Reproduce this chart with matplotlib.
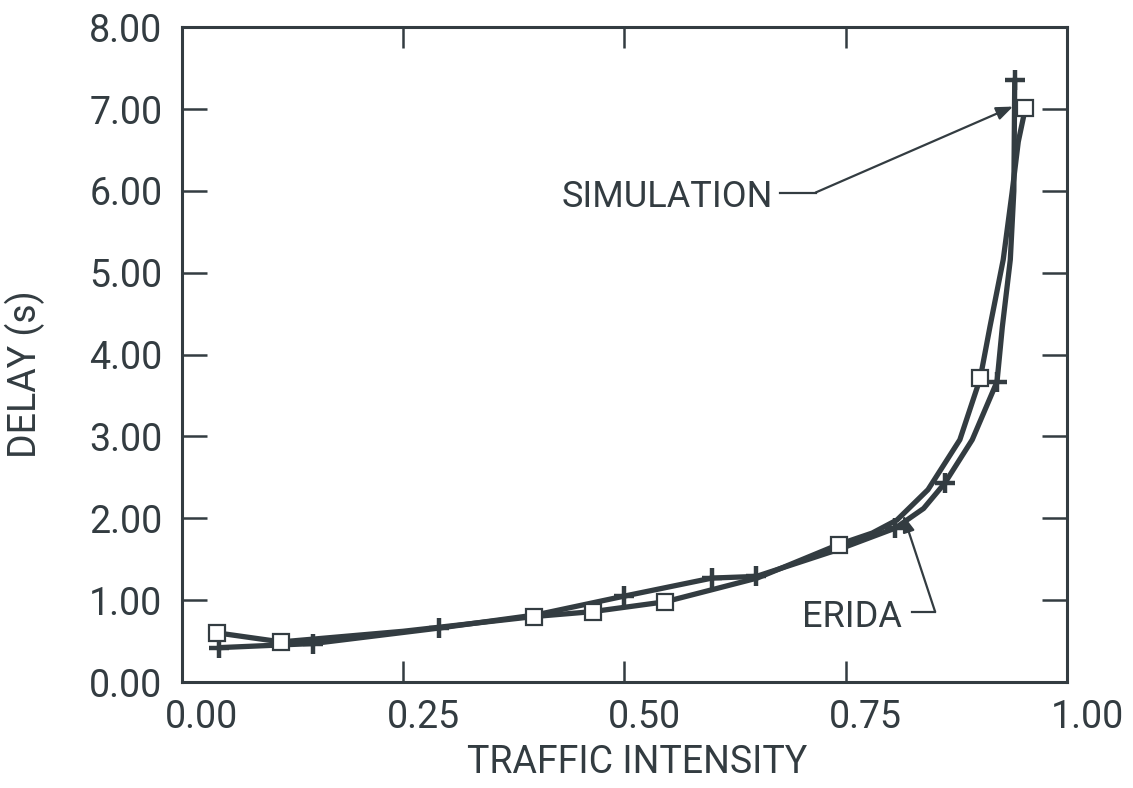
import matplotlib
matplotlib.use("Agg")
import matplotlib.pyplot as plt
import matplotlib.transforms as mtransforms

# ==================================
# DATA
# ==================================

# marked points
sim_x = [0.040, 0.112, 0.398, 0.464, 0.546, 0.742, 0.902, 0.953]
sim_y = [0.60, 0.49, 0.80, 0.85, 0.98, 1.68, 3.71, 7.01]

erida_x = [0.042, 0.148, 0.291, 0.500, 0.599, 0.649, 0.806, 0.862, 0.921, 0.941]
erida_y = [0.42, 0.47, 0.66, 1.05, 1.27, 1.29, 1.88, 2.43, 3.67, 7.36]

# curves as traced on the figure
sim_curve_x = [0.040, 0.112, 0.250, 0.398, 0.464, 0.546, 0.650, 0.742,
               0.780, 0.808, 0.843, 0.879, 0.902, 0.913, 0.928, 0.938, 0.945, 0.953]
sim_curve_y = [0.60, 0.49, 0.62, 0.80, 0.86, 0.98, 1.27, 1.68,
               1.82, 1.98, 2.35, 2.96, 3.71, 4.34, 5.16, 5.98, 6.60, 7.01]

erida_curve_x = [0.042, 0.148, 0.291, 0.400, 0.500, 0.599, 0.649, 0.742,
                 0.806, 0.838, 0.862, 0.893, 0.921, 0.927, 0.936, 0.940, 0.941]
erida_curve_y = [0.42, 0.47, 0.66, 0.82, 1.05, 1.27, 1.29, 1.62,
                 1.88, 2.12, 2.43, 2.96, 3.67, 4.34, 5.16, 6.00, 7.36]

x_ticks = [0.0, 0.25, 0.5, 0.75, 1.0]
x_labels = ["0.00", "0.25", "0.50", "0.75", "1.00"]
y_ticks = [0, 1, 2, 3, 4, 5, 6, 7, 8]
y_labels = ["0.00", "1.00", "2.00", "3.00", "4.00", "5.00", "6.00", "7.00", "8.00"]

# ==================================
# STYLE
# ==================================

INK = "#333c41"
plt.rcParams['font.family'] = ['Roboto', 'DejaVu Sans']

fig = plt.figure(figsize=(11.33, 7.88), dpi=100)
ax = fig.add_axes([0.1606, 0.1345, 0.7811, 0.831])

# ==================================
# CURVES
# ==================================

ax.plot(sim_curve_x, sim_curve_y, color=INK, lw=3.8, solid_capstyle='round',
        solid_joinstyle='round', zorder=2)
ax.plot(erida_curve_x, erida_curve_y, color=INK, lw=3.8, solid_capstyle='round',
        solid_joinstyle='round', zorder=2)

ax.plot(erida_x, erida_y, linestyle='none', marker='+', markersize=15,
        markeredgewidth=3.2, color=INK, zorder=3)
ax.plot(sim_x, sim_y, linestyle='none', marker='s', markersize=12,
        markerfacecolor='white', markeredgecolor=INK, markeredgewidth=1.6, zorder=4)

# ==================================
# LABELS / ANNOTATIONS
# ==================================

ax.text(0.548, 5.93, "SIMULATION", fontsize=26, color=INK, ha='center', va='center')
ax.plot([0.676, 0.716], [5.98, 5.98], color=INK, lw=1.6)
ax.annotate("", xy=(0.939, 7.03), xytext=(0.716, 5.98),
            arrowprops=dict(arrowstyle='-|>,head_length=1.0,head_width=0.4',
                            color=INK, lw=1.6, shrinkA=0, shrinkB=0))

ax.text(0.757, 0.80, "ERIDA", fontsize=26, color=INK, ha='center', va='center')
ax.plot([0.825, 0.851], [0.86, 0.86], color=INK, lw=1.6)
ax.annotate("", xy=(0.815, 2.04), xytext=(0.851, 0.86),
            arrowprops=dict(arrowstyle='-|>,head_length=1.0,head_width=0.35',
                            color=INK, lw=1.6, shrinkA=0, shrinkB=0))

ax.set_xlabel("TRAFFIC INTENSITY", fontsize=27, color=INK)
ax.set_ylabel("DELAY (s)", fontsize=27, color=INK)
ax.xaxis.set_label_coords(0.514, -0.095)
ax.yaxis.set_label_coords(-0.155, 0.47)

# ==================================
# AXES
# ==================================

ax.set_xlim(0, 1.0)
ax.set_ylim(0, 8)

ax.set_xticks(x_ticks)
ax.set_xticklabels(x_labels)
ax.set_yticks(y_ticks)
ax.set_yticklabels(y_labels)

ax.tick_params(axis='both', direction='in', colors=INK, labelsize=27, width=1.8)
ax.tick_params(axis='x', length=15, pad=12, top=True)
ax.tick_params(axis='y', length=18, pad=14, right=True)

for spine in ax.spines.values():
    spine.set_linewidth(2.2)
    spine.set_color(INK)

# x tick labels sit a little right of their ticks in the original
shift = mtransforms.ScaledTranslation(0.2, 0, fig.dpi_scale_trans)
for lab in ax.get_xticklabels():
    lab.set_transform(lab.get_transform() + shift)

fig.savefig("out.png", dpi=100, facecolor='white')
